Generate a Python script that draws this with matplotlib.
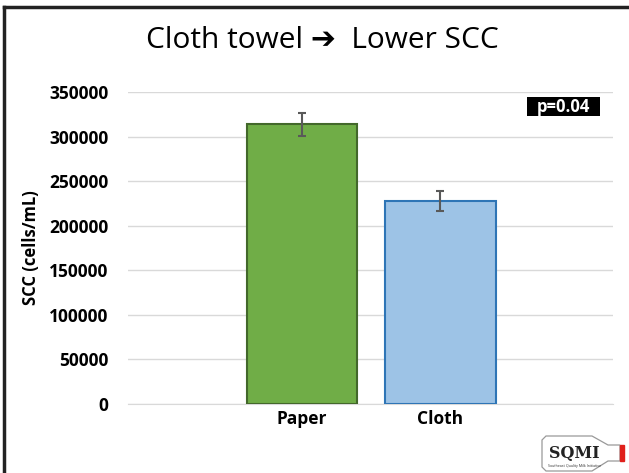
import matplotlib
matplotlib.use("Agg")
import matplotlib.pyplot as plt
from matplotlib.patches import Polygon, Rectangle
from matplotlib.lines import Line2D

categories = ["Paper", "Cloth"]
values = [314000, 228000]
errors = [13000, 11500]
yticks = [0, 50000, 100000, 150000, 200000, 250000, 300000, 350000]
title = "Cloth towel \u2794  Lower SCC"
ylabel = "SCC (cells/mL)"
pval = "p=0.04"

plt.rcParams['font.family'] = ['Open Sans', 'DejaVu Sans']

fig = plt.figure(figsize=(6.29, 4.73), dpi=100)
W, H = 629, 473


def fx(px):
    return px / W


def fy(py):
    return 1 - py / H


ax = fig.add_axes([fx(128), fy(404), (613 - 128) / W, (404 - 92) / H])

x = list(range(len(categories)))
ax.bar(x, values, width=0.8, color=["#70ad47", "#9dc3e6"],
       edgecolor=["#43682b", "#2e75b6"], linewidth=1.5, zorder=3)
ax.errorbar(x, values, yerr=errors, fmt="none", ecolor="#595959",
            elinewidth=1.5, capsize=3, capthick=1.5, zorder=4)

ax.set_xlim(-1.26, 2.25)
ax.set_ylim(0, 350000)
ax.set_yticks(yticks)
ax.set_yticklabels([str(v) for v in yticks], fontsize=12.5, fontweight="bold")
ax.set_xticks(x)
ax.set_xticklabels(categories, fontsize=12.5, fontweight="bold")
ax.tick_params(axis="x", length=0, pad=4)
ax.tick_params(axis="y", length=0, pad=14)
ax.grid(axis="y", color="#d9d9d9", linewidth=1, zorder=0)
for s in ["top", "right", "left"]:
    ax.spines[s].set_visible(False)
ax.spines["bottom"].set_color("#d9d9d9")
ax.set_ylabel(ylabel, fontsize=12, fontweight="bold")
ax.yaxis.set_label_coords(-0.181, 0.5)

fig.text(fx(322), fy(41), title, ha="center", va="center", fontsize=21.5)

# p-value box
fig.add_artist(Rectangle((fx(527), fy(116)), 73 / W, 19 / H, facecolor="black",
                         edgecolor="none"))
fig.text(fx(563.5), fy(106.5), pval, ha="center", va="center", fontsize=12,
         fontweight="bold", color="white")

# slide border
fig.add_artist(Line2D([fx(4), fx(4)], [0, fy(7)], color="#222222", linewidth=2.5))
fig.add_artist(Line2D([fx(4), 1], [fy(7), fy(7)], color="#222222", linewidth=2.5))

# logo (bottle)
bottle = [(546, 436), (592, 436), (608, 445), (620, 445), (620, 461), (608, 461),
          (592, 471), (546, 471), (542, 467), (542, 440)]
fig.add_artist(Polygon([(fx(a), fy(b)) for a, b in bottle], closed=True,
                       facecolor="white", edgecolor="#999999", linewidth=0.9))
fig.add_artist(Rectangle((fx(620), fy(461)), 4 / W, 16 / H, color="#e0201b"))
fig.text(fx(574), fy(453), "SQMI", ha="center", va="center", fontsize=11.5,
         fontweight="bold", family=["DejaVu Serif"], color="#222222")
fig.text(fx(574), fy(466), "Southeast Quality Milk Initiative", ha="center",
         va="center", fontsize=2.6, color="#333333")

fig.savefig("out.png", dpi=100)
